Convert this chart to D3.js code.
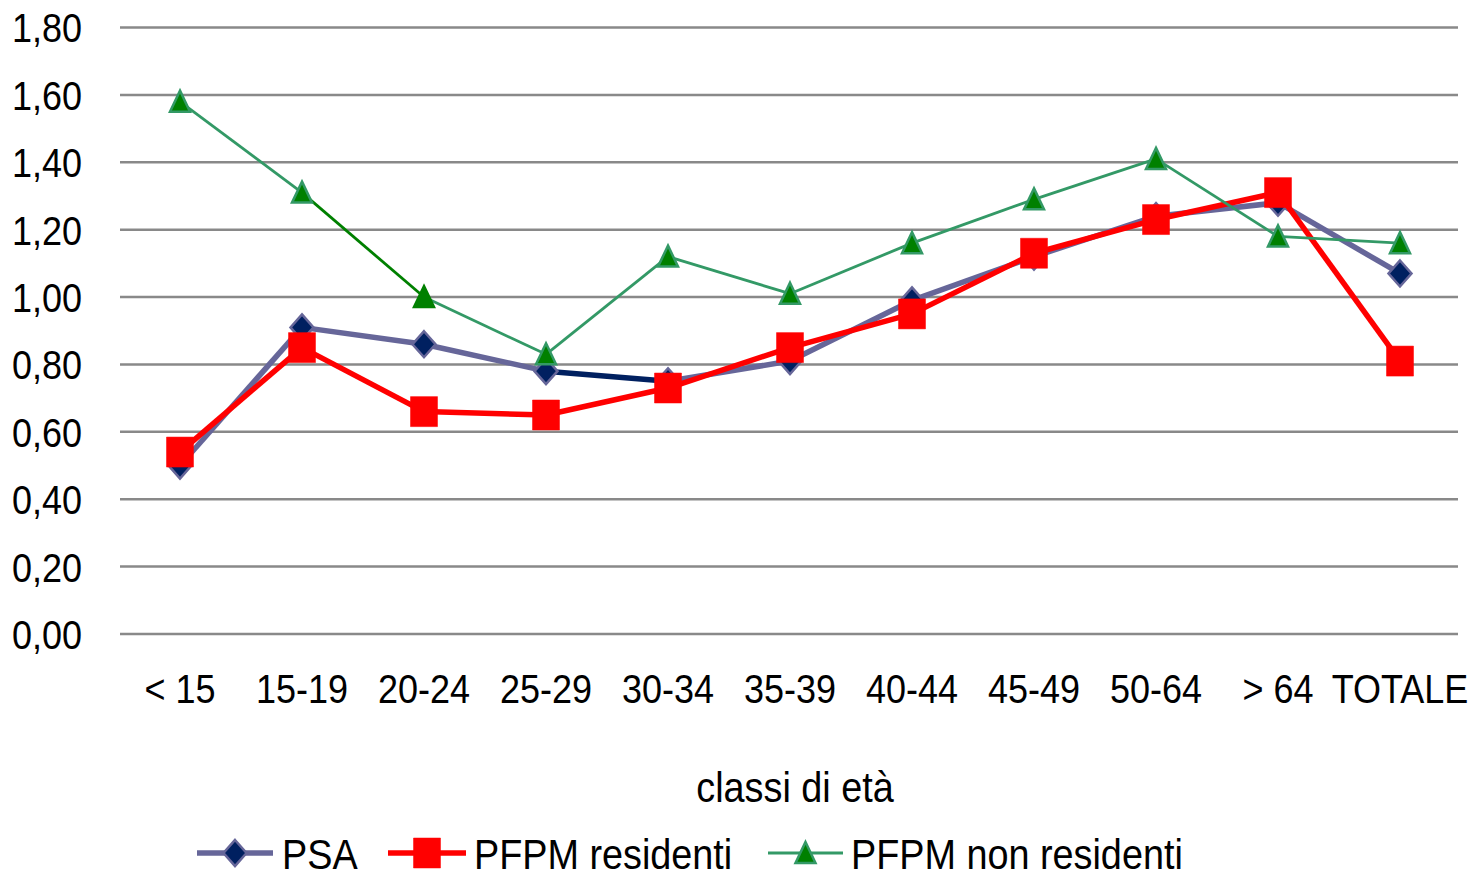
<!DOCTYPE html>
<html>
<head>
<meta charset="utf-8">
<script src="https://cdn.jsdelivr.net/npm/d3@7"></script>
<style>
  html, body { margin: 0; padding: 0; background: #fff; }
  svg text { font-family: "Liberation Sans", Arial, sans-serif; fill: #000; }
</style>
</head>
<body>
<svg id="chart" width="1474" height="876"></svg>
<script>
// ---- data ----
const categories = ["< 15", "15-19", "20-24", "25-29", "30-34", "35-39", "40-44", "45-49", "50-64", "> 64", "TOTALE"];
const psa =            [0.50, 0.91, 0.86, 0.78, 0.75, 0.81, 0.99, 1.12, 1.24, 1.28, 1.07];
const pfpmResidenti =  [0.54, 0.85, 0.66, 0.65, 0.73, 0.85, 0.95, 1.13, 1.23, 1.31, 0.81];
const pfpmNonResidenti=[1.58, 1.31, 1.00, 0.83, 1.12, 1.01, 1.16, 1.29, 1.41, 1.18, 1.16];
const yTicks = [0, 0.2, 0.4, 0.6, 0.8, 1.0, 1.2, 1.4, 1.6, 1.8];
const seriesNames = ["PSA", "PFPM residenti", "PFPM non residenti"];
const xTitle = "classi di età";

// ---- layout / style ----
const svg = d3.select("#chart");
const x = d3.scaleBand().domain(categories).range([119, 1461]).padding(0);
const cx = d => x(d) + x.bandwidth() / 2;
const y = d3.scaleLinear().domain([0, 1.8]).range([634, 27.5]);
const fmt = v => d3.format(".2f")(v).replace(".", ",");
const FONT = "Liberation Sans, Arial, sans-serif";

// custom marker shapes (slightly taller than wide, like the reference)
const diamondShape = { draw(ctx) { ctx.moveTo(0, -13); ctx.lineTo(11.5, 0); ctx.lineTo(0, 13); ctx.lineTo(-11.5, 0); ctx.closePath(); } };
const rectShape = { draw(ctx) { ctx.rect(-13.5, -15, 27, 30); } };
const triShape = { draw(ctx) { ctx.moveTo(0, -11); ctx.lineTo(10, 10); ctx.lineTo(-10, 10); ctx.closePath(); } };

const styles = [
  { line: "#666699", width: 5.5, fill: "#002060", stroke: "#666699", shape: diamondShape, sw: 2.5,
    segOverride: { 3: "#002060" }, markOverride: {} },
  { line: "#FF0000", width: 5.5, fill: "#FF0000", stroke: "#FF0000", shape: rectShape, sw: 0.5,
    segOverride: {}, markOverride: {} },
  { line: "#339966", width: 2.8, fill: "#008000", stroke: "#339966", shape: triShape, sw: 2.5,
    segOverride: { 1: "#008000" }, markOverride: { 2: "#008000" } }
];
const seriesData = [psa, pfpmResidenti, pfpmNonResidenti];

// gridlines
svg.append("g").selectAll("line").data(yTicks).join("line")
  .attr("x1", 120).attr("x2", 1458)
  .attr("y1", d => y(d)).attr("y2", d => y(d))
  .attr("stroke", "#898989").attr("stroke-width", 2.5);

// y axis labels
const yAxis = d3.axisLeft(y).tickValues(yTicks).tickFormat(fmt).tickSize(0).tickPadding(0);
const yg = svg.append("g").attr("transform", "translate(82,0)").call(yAxis);
yg.select(".domain").remove();
yg.selectAll("text").attr("font-size", 40).attr("x", 0)
  .attr("dy", "0.36em").attr("fill", "#000").attr("font-family", FONT)
  .attr("transform", "scale(0.9,1)");

// x axis labels
const xAxis = d3.axisBottom(x).tickSize(0).tickPadding(0);
const xg = svg.append("g").attr("transform", "translate(0,703)").call(xAxis);
xg.select(".domain").remove();
xg.selectAll("text").attr("font-size", 40)
  .attr("dy", 0).attr("y", 0).attr("fill", "#000").attr("font-family", FONT)
  .attr("transform", "scale(0.9,1)");

// x title
svg.append("text").attr("transform", "translate(795,802) scale(0.9,1)").attr("text-anchor", "middle")
  .attr("font-size", 42).text(xTitle);

// series
const lineGen = d3.line().x(d => cx(d.c)).y(d => y(d.v));
seriesData.forEach((vals, si) => {
  const st = styles[si];
  const pts = vals.map((v, i) => ({ c: categories[i], v }));
  const g = svg.append("g");
  const segs = d3.pairs(pts).map((p, i) => ({ p, i }));
  g.selectAll("path.seg").data(segs).join("path")
    .attr("class", "seg")
    .attr("d", d => lineGen(d.p))
    .attr("fill", "none")
    .attr("stroke", d => st.segOverride[d.i] || st.line)
    .attr("stroke-width", st.width)
    .attr("stroke-linejoin", "round");
  g.selectAll("path.mk").data(pts.map((p, i) => ({ ...p, i }))).join("path")
    .attr("class", "mk")
    .attr("transform", d => `translate(${cx(d.c)},${y(d.v)})`)
    .attr("d", d3.symbol().type(st.shape))
    .attr("fill", st.fill)
    .attr("stroke", d => st.markOverride[d.i] || st.stroke)
    .attr("stroke-width", st.sw);
});

// legend
const legendItems = [
  { x1: 197, x2: 273, tx: 282 },
  { x1: 388, x2: 466, tx: 474 },
  { x1: 768, x2: 843, tx: 851 }
];
const ly = 853;
legendItems.forEach((it, si) => {
  const st = styles[si];
  const g = svg.append("g");
  g.append("line").attr("x1", it.x1).attr("x2", it.x2).attr("y1", ly).attr("y2", ly)
    .attr("stroke", st.line).attr("stroke-width", st.width);
  g.append("path").attr("transform", `translate(${(it.x1 + it.x2) / 2},${ly})`)
    .attr("d", d3.symbol().type(st.shape))
    .attr("fill", st.fill).attr("stroke", st.stroke).attr("stroke-width", st.sw);
  g.append("text").attr("transform", `translate(${it.tx},869) scale(0.9,1)`)
    .attr("font-size", 42).text(seriesNames[si]);
});
</script>
</body>
</html>
